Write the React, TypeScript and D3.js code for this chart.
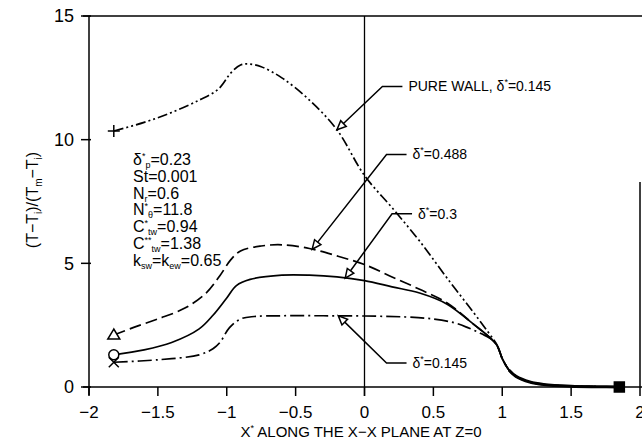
import React from "react";
import * as d3 from "d3";

const xTicks = [-2, -1.5, -1, -0.5, 0, 0.5, 1, 1.5, 2];
const xTickLabels = ["\u22122", "\u22121.5", "\u22121", "\u22120.5", "0", "0.5", "1", "1.5", "2"];
const yTicks = [0, 5, 10, 15];

const tailX = [1.05, 1.1, 1.2, 1.3, 1.5, 1.7, 1.85];
const tailY = [0.68, 0.43, 0.2, 0.1, 0.03, 0.01, 0];

const pureX = [-1.82, -1.6, -1.4, -1.2, -1.06, -0.97, -0.9, -0.84, -0.75, -0.6, -0.4, -0.2, 0, 0.2, 0.4, 0.6, 0.8, 0.9, 0.96, 1.0, ...tailX];
const pureY = [10.35, 10.7, 11.1, 11.6, 12.05, 12.7, 13.02, 13.06, 12.95, 12.5, 11.6, 10.4, 8.55, 7.25, 5.9, 4.4, 2.95, 2.2, 1.72, 1.15, ...tailY];

const d488X = [-1.82, -1.68, -1.5, -1.3, -1.15, -1.05, -0.97, -0.9, -0.75, -0.6, -0.4, -0.2, 0, 0.2, 0.4, 0.6, 0.8, 0.9, 0.96, 1.0, ...tailX];
const d488Y = [2.1, 2.4, 2.75, 3.2, 3.8, 4.5, 5.15, 5.5, 5.7, 5.75, 5.6, 5.3, 4.95, 4.45, 3.95, 3.4, 2.5, 2.05, 1.7, 1.15, ...tailY];

const d3X = [-1.82, -1.6, -1.4, -1.2, -1.1, -1.0, -0.93, -0.83, -0.6, -0.4, -0.2, 0, 0.2, 0.4, 0.6, 0.8, 0.9, 0.96, 1.0, ...tailX];
const d3Y = [1.3, 1.5, 1.8, 2.35, 2.9, 3.6, 4.1, 4.35, 4.52, 4.52, 4.45, 4.3, 4.05, 3.8, 3.35, 2.5, 2.05, 1.7, 1.15, ...tailY];

const d145X = [-1.82, -1.5, -1.2, -1.1, -1.05, -0.98, -0.9, -0.8, -0.6, -0.3, 0, 0.3, 0.5, 0.65, 0.75, 0.85, 0.93, 0.97, 1.0, ...tailX];
const d145Y = [1.0, 1.1, 1.3, 1.55, 1.8, 2.4, 2.75, 2.85, 2.88, 2.88, 2.87, 2.83, 2.75, 2.6, 2.4, 2.15, 1.9, 1.6, 1.15, ...tailY];

const seriesNames = ["pure", "d488", "d3", "d145"];
const seriesLabels = ["PURE WALL, ", "", "", ""];
const seriesLabelValues = ["0.145", "0.488", "0.3", "0.145"];
const tipX = [-0.2, -0.38, -0.14, -0.19];
const elbowXs = [0.13, 0.16, 0.2, 0.16];
const elbowYs = [12.15, 9.4, 7.0, 0.97];
const paramValues = ["=0.23", "=0.001", "=0.6", "=11.8", "=0.94", "=1.38", "=k", "=0.65"];

const W = 642, H = 447;
const x = d3.scaleLinear().domain([-2, 2]).range([89, 640]);
const y = d3.scaleLinear().domain([0, 15]).range([387, 16]);

const font = "'Liberation Sans', Arial, sans-serif";

function interp(xs: number[], ys: number[], xv: number) {
  for (let i = 0; i < xs.length - 1; i++) {
    if (xv >= xs[i] && xv <= xs[i + 1]) {
      const t = (xv - xs[i]) / (xs[i + 1] - xs[i]);
      return ys[i] + t * (ys[i + 1] - ys[i]);
    }
  }
  return ys[ys.length - 1];
}

export default function App() {
  const line = d3.line<[number, number]>().x(d => x(d[0])).y(d => y(d[1])).curve(d3.curveCatmullRom.alpha(0.5));
  const data: [number[], number[], string][] = [
    [pureX, pureY, "10,3,2,3,2,3"],
    [d488X, d488Y, "12,5"],
    [d3X, d3Y, "none"],
    [d145X, d145Y, "14,4,2,4"],
  ];

  const leaders = data.map(([xs, ys], i) => {
    const tx = x(tipX[i]);
    const ty = y(interp(xs, ys, tipX[i]));
    const ex = x(elbowXs[i]);
    const ey = y(elbowYs[i]);
    const endX = ex + 20;
    const dx = ex - tx, dy = ey - ty;
    const len = Math.hypot(dx, dy);
    const ux = dx / len, uy = dy / len;
    const px = -uy, py = ux;
    const al = 9, aw = 4;
    const bx = tx + ux * al, by = ty + uy * al;
    const head = `${tx},${ty} ${bx + px * aw},${by + py * aw} ${bx - px * aw},${by - py * aw}`;
    return (
      <g key={seriesNames[i]}>
        <polyline points={`${bx},${by} ${ex},${ey} ${endX},${ey}`} fill="none" stroke="#000" strokeWidth={1.5} />
        <polygon points={head} fill="#fff" stroke="#000" strokeWidth={1.5} />
        <text x={endX + 6} y={ey} dy="0.35em" fontSize={14} fontFamily={font}>
          {seriesLabels[i]}δ<tspan fontSize={9} dy="-6">*</tspan><tspan dy="6">=</tspan>{seriesLabelValues[i]}
        </text>
      </g>
    );
  });

  const px0 = 133, py0 = 165, lh = 16.8;

  return (
    <svg width={W} height={H} style={{ position: "absolute", left: 0, top: 0, background: "#fff" }}>
      <line x1={83} x2={642} y1={16} y2={16} stroke="#000" strokeWidth={1.5} />
      <line x1={89} x2={89} y1={16} y2={395} stroke="#000" strokeWidth={1.5} />
      <line x1={83} x2={642} y1={387} y2={387} stroke="#000" strokeWidth={1.5} />
      <line x1={640} x2={640} y1={182} y2={387} stroke="#000" strokeWidth={1.5} />
      <line x1={x(0)} x2={x(0)} y1={16} y2={396} stroke="#000" strokeWidth={1.3} />
      {yTicks.map(t => (
        <g key={"y" + t}>
          <line x1={81} x2={91} y1={y(t)} y2={y(t)} stroke="#000" strokeWidth={1.5} />
          <text x={74} y={y(t)} dy="0.36em" textAnchor="end" fontSize={18} fontFamily={font}>{t}</text>
        </g>
      ))}
      {xTicks.map((t, i) => (
        <g key={"x" + t}>
          <line x1={x(t)} x2={x(t)} y1={387} y2={396} stroke="#000" strokeWidth={1.5} />
          <text x={x(t)} y={412} dy="0.36em" textAnchor="middle" fontSize={17} fontFamily={font}>{xTickLabels[i]}</text>
        </g>
      ))}
      <text x={361} y={437} textAnchor="middle" fontSize={15} fontFamily={font}>
        X<tspan fontSize={9} dy="-6">*</tspan><tspan dy="6"> ALONG THE X−X PLANE AT Z=0</tspan>
      </text>
      <text transform="translate(38,200) rotate(-90)" textAnchor="middle" fontSize={16} fontFamily={font}>
        (T−T<tspan fontSize={10} dy="4">i</tspan><tspan dy="-4">)/(T</tspan><tspan fontSize={10} dy="4">m</tspan><tspan dy="-4">−T</tspan><tspan fontSize={10} dy="4">i</tspan><tspan dy="-4">)</tspan>
      </text>

      {data.map(([xs, ys, dash], i) => (
        <path key={seriesNames[i]} d={line(xs.map((v, j) => [v, ys[j]] as [number, number])) || ""}
          fill="none" stroke="#000" strokeWidth={1.7} strokeDasharray={dash} />
      ))}
      <path d={line(tailX.map((v, j) => [v, tailY[j]] as [number, number])) || ""} fill="none" stroke="#000" strokeWidth={3} />

      <g stroke="#000" strokeWidth={1.5} fill="#fff">
        <path d={`M${x(pureX[0]) - 6},${y(pureY[0])}h12M${x(pureX[0])},${y(pureY[0]) - 6}v12`} />
        <polygon points={`${x(d488X[0])},${y(d488Y[0]) - 6} ${x(d488X[0]) - 6},${y(d488Y[0]) + 4} ${x(d488X[0]) + 6},${y(d488Y[0]) + 4}`} />
        <circle cx={x(d3X[0])} cy={y(d3Y[0])} r={5} />
        <path d={`M${x(d145X[0]) - 5},${y(d145Y[0]) - 5}l10,10M${x(d145X[0]) - 5},${y(d145Y[0]) + 5}l10,-10`} />
        <rect x={x(1.85) - 5} y={y(0) - 5} width={10} height={10} fill="#000" />
      </g>

      {leaders}

      <g fontSize={16} fontFamily={font}>
        <text x={px0} y={py0}>δ<tspan fontSize={9} dy="-6">*</tspan><tspan fontSize={9} dy="9">p</tspan><tspan dy="-3">{paramValues[0]}</tspan></text>
        <text x={px0} y={py0 + lh}>St{paramValues[1]}</text>
        <text x={px0} y={py0 + 2 * lh}>N<tspan fontSize={9} dy="3">r</tspan><tspan dy="-3">{paramValues[2]}</tspan></text>
        <text x={px0} y={py0 + 3 * lh}>N<tspan fontSize={9} dy="-6">*</tspan><tspan fontSize={9} dy="9">θ</tspan><tspan dy="-3">{paramValues[3]}</tspan></text>
        <text x={px0} y={py0 + 4 * lh}>C<tspan fontSize={9} dy="-6">*</tspan><tspan fontSize={9} dy="9">tw</tspan><tspan dy="-3">{paramValues[4]}</tspan></text>
        <text x={px0} y={py0 + 5 * lh}>C<tspan fontSize={9} dy="-6">**</tspan><tspan fontSize={9} dy="9">tw</tspan><tspan dy="-3">{paramValues[5]}</tspan></text>
        <text x={px0} y={py0 + 6 * lh}>k<tspan fontSize={9} dy="3">sw</tspan><tspan dy="-3">{paramValues[6]}</tspan><tspan fontSize={9} dy="3">ew</tspan><tspan dy="-3">{paramValues[7]}</tspan></text>
      </g>
    </svg>
  );
}
